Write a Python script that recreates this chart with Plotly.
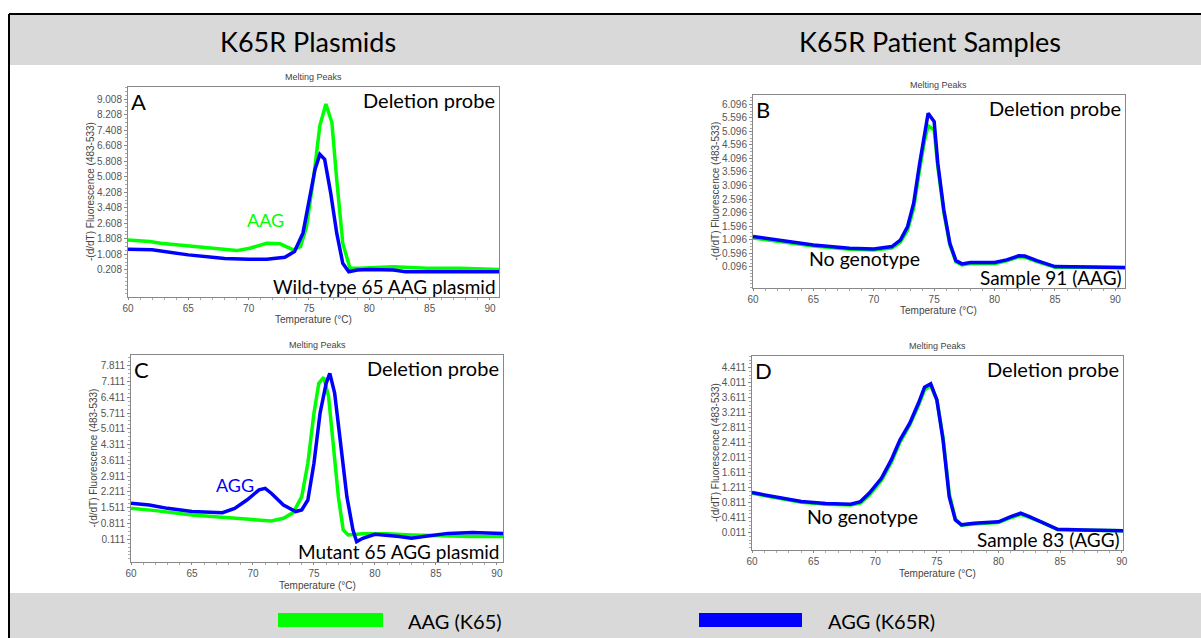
import plotly.graph_objects as go

W, H = 1201, 638

# ---------------- data ----------------
# Panel A: K65R wild-type plasmid
A_green_t = [60, 61.8, 62.7, 65.4, 68.2, 69.0, 70.1, 71.5, 72.6, 73.7, 74.3, 74.8, 75.4, 75.9, 76.4, 76.9, 77.3, 77.8, 78.4, 79.2, 82.0, 84.8, 87.5, 90.8]
A_green_v = [1.75, 1.67, 1.58, 1.41, 1.24, 1.20, 1.32, 1.58, 1.55, 1.24, 1.41, 2.44, 5.04, 7.63, 8.75, 7.80, 4.86, 1.58, 0.29, 0.29, 0.37, 0.29, 0.29, 0.23]
A_blue_t = [60, 62, 65, 68, 70, 71.5, 73, 73.8, 74.5, 75, 75.5, 75.9, 76.3, 76.8, 77.3, 77.8, 78.3, 79, 80, 82, 83, 85, 90.8]
A_blue_v = [1.27, 1.24, 0.98, 0.80, 0.75, 0.75, 0.86, 1.15, 2.10, 3.65, 5.38, 6.16, 5.90, 4.17, 2.10, 0.55, 0.11, 0.20, 0.23, 0.20, 0.11, 0.11, 0.11]

# Panel B: patient sample 91 (AAG)
B_t = [60, 62, 65, 68, 70, 71.5, 72.2, 72.8, 73.3, 73.8, 74.2, 74.5, 75, 75.3, 75.8, 76.3, 76.8, 77.3, 78, 80, 81, 82, 82.5, 83.5, 85, 87, 90.8]
B_green_v = [1.16, 1.03, 0.86, 0.74, 0.71, 0.79, 1.00, 1.45, 2.25, 3.70, 4.75, 5.30, 5.15, 3.80, 2.10, 0.90, 0.28, 0.16, 0.21, 0.21, 0.31, 0.46, 0.45, 0.29, 0.08, 0.08, 0.06]
B_blue_v = [1.21, 1.08, 0.90, 0.78, 0.75, 0.84, 1.08, 1.58, 2.44, 3.92, 5.02, 5.76, 5.46, 3.92, 2.19, 0.96, 0.32, 0.20, 0.25, 0.25, 0.35, 0.50, 0.49, 0.32, 0.10, 0.10, 0.07]

# Panel C: K65R mutant plasmid
C_green_t = [60, 62, 65, 68, 70, 71.5, 72.5, 73.3, 74, 74.5, 75, 75.4, 75.8, 76.2, 76.6, 77, 77.4, 77.8, 79, 81, 83, 85, 88, 90.5]
C_green_v = [1.48, 1.38, 1.19, 1.08, 0.97, 0.92, 1.04, 1.29, 2.00, 3.48, 5.70, 7.03, 7.29, 6.44, 4.22, 2.00, 0.52, 0.30, 0.35, 0.35, 0.30, 0.26, 0.23, 0.23]
C_blue_t = [60, 61.5, 63, 65, 67.5, 68.5, 69.5, 70.5, 71, 71.5, 72.5, 73.5, 74, 74.5, 75, 75.5, 76, 76.3, 76.7, 77.2, 77.7, 78.2, 78.5, 79, 80, 82, 83, 84, 86, 88, 90.5]
C_blue_v = [1.71, 1.63, 1.48, 1.34, 1.29, 1.48, 1.85, 2.30, 2.37, 2.15, 1.63, 1.34, 1.41, 1.85, 3.48, 5.70, 7.03, 7.47, 6.58, 4.22, 2.00, 0.52, 0.00, 0.15, 0.33, 0.23, 0.15, 0.23, 0.37, 0.41, 0.37]

# Panel D: patient sample 83 (AGG)
D_t = [60, 62, 64, 66, 68, 68.8, 69.5, 70.5, 71.3, 72, 72.8, 73.5, 74, 74.5, 75, 75.5, 76, 76.5, 77, 78, 80, 81, 81.8, 82.5, 83.5, 84.8, 87, 90.1]
D_green_v = [1.06, 0.95, 0.82, 0.77, 0.75, 0.80, 1.00, 1.40, 1.88, 2.42, 2.88, 3.40, 3.82, 3.93, 3.55, 2.55, 1.05, 0.38, 0.21, 0.24, 0.28, 0.41, 0.50, 0.42, 0.29, 0.09, 0.07, 0.06]
D_blue_v = [1.08, 0.97, 0.84, 0.79, 0.77, 0.84, 1.06, 1.46, 1.95, 2.48, 2.93, 3.46, 3.89, 3.98, 3.55, 2.48, 0.97, 0.35, 0.22, 0.26, 0.30, 0.44, 0.53, 0.44, 0.30, 0.10, 0.08, 0.06]

# tick labels
A_ticks = ["9.008", "8.208", "7.408", "6.608", "5.808", "5.008", "4.208", "3.408", "2.608", "1.808", "1.008", "0.208"]
B_ticks = ["6.096", "5.596", "5.096", "4.596", "4.096", "3.596", "3.096", "2.596", "2.096", "1.596", "1.096", "0.596", "0.096"]
C_ticks = ["7.811", "7.111", "6.411", "5.711", "5.011", "4.311", "3.611", "2.911", "2.211", "1.511", "0.811", "0.111"]
D_ticks = ["4.411", "4.011", "3.611", "3.211", "2.811", "2.411", "2.011", "1.611", "1.211", "0.811", "0.411", "0.011"]
x_ticks = [60, 65, 70, 75, 80, 85, 90]

headers = ["K65R Plasmids", "K65R Patient Samples"]
legend_labels = ["AAG (K65)", "AGG (K65R)"]
GREEN, BLUE = "#00ff00", "#0000ff"

# ---------------- layout helpers ----------------
def X(px):
    return px / W

def Y(py):
    return 1 - py / H

BIG = "Lato, 'Open Sans', sans-serif"
SMALL = "'Liberation Sans', Arial, sans-serif"

panels = [
    dict(key="", box=(128, 499, 87, 297), xr=[60, 90.75], yr=[-1.19, 9.63], ticks=A_ticks, step=0.8,
         series=[(A_green_t, A_green_v, GREEN), (A_blue_t, A_blue_v, BLUE)],
         letter="A", bottom_text="Wild-type 65 AAG plasmid", ytitle_x=90),
    dict(key="2", box=(753, 1125, 95, 288), xr=[60, 90.8], yr=[-0.69, 6.44], ticks=B_ticks, step=0.5,
         series=[(B_t, B_green_v, GREEN), (B_t, B_blue_v, BLUE)],
         letter="B", bottom_text="Sample 91 (AAG)", ytitle_x=715),
    dict(key="3", box=(131, 503, 355, 562), xr=[60, 90.5], yr=[-0.9, 8.285], ticks=C_ticks, step=0.7,
         series=[(C_green_t, C_green_v, GREEN), (C_blue_t, C_blue_v, BLUE)],
         letter="C", bottom_text="Mutant 65 AGG plasmid", ytitle_x=93),
    dict(key="4", box=(752, 1123, 356, 550), xr=[60, 90.1], yr=[-0.45, 4.72], ticks=D_ticks, step=0.4,
         series=[(D_t, D_green_v, GREEN), (D_t, D_blue_v, BLUE)],
         letter="D", bottom_text="Sample 83 (AGG)", ytitle_x=715),
]

fig = go.Figure()
annotations = []
shapes = []
layout = {}

# background bands and frame
shapes.append(dict(type="rect", xref="paper", yref="paper", x0=X(9), x1=1, y0=Y(65), y1=Y(14),
                   fillcolor="#d9d9d9", line=dict(width=0), layer="below"))
shapes.append(dict(type="rect", xref="paper", yref="paper", x0=X(9), x1=1, y0=0, y1=Y(593),
                   fillcolor="#d9d9d9", line=dict(width=0), layer="below"))
shapes.append(dict(type="line", xref="paper", yref="paper", x0=X(9), x1=1, y0=Y(14), y1=Y(14),
                   line=dict(color="black", width=2)))
shapes.append(dict(type="line", xref="paper", yref="paper", x0=X(9), x1=X(9), y0=0, y1=Y(14),
                   line=dict(color="black", width=2)))

for i, txt in enumerate(headers):
    cx = [308, 930][i]
    annotations.append(dict(text=txt, x=X(cx), y=Y(41), xref="paper", yref="paper", showarrow=False,
                            xanchor="center", yanchor="middle", font=dict(family=BIG, size=27, color="black")))

for p in panels:
    l, r, t, b = p["box"]
    k = p["key"]
    xa, ya = "xaxis" + k, "yaxis" + k
    xref, yref = "x" + k, "y" + k
    y0 = float(p["ticks"][-1])
    tickvals = [float(s) for s in p["ticks"]]
    layout[xa] = dict(domain=[X(l), X(r)], range=p["xr"], anchor=yref, tickmode="array", tickvals=x_ticks,
                      ticks="outside", ticklen=2, tickcolor="#888", showline=True, linecolor="#888",
                      linewidth=1, mirror=True, showgrid=False, zeroline=False, automargin=False,
                      tickfont=dict(family=SMALL, size=10, color="#555"),
                      minor=dict(tickmode="linear", tick0=60, dtick=1, ticks="outside", ticklen=2, tickcolor="#aaa"))
    layout[ya] = dict(domain=[Y(b), Y(t)], range=p["yr"], anchor=xref, tickmode="array", tickvals=tickvals,
                      ticktext=p["ticks"], ticks="outside", ticklen=3, tickcolor="#888", showline=True,
                      linecolor="#888", linewidth=1, mirror=True, showgrid=False, zeroline=False,
                      automargin=False, tickfont=dict(family=SMALL, size=10, color="#555"),
                      minor=dict(tickmode="linear", tick0=y0, dtick=p["step"] / 4, ticks="outside",
                                 ticklen=2, tickcolor="#aaa"))
    for tx, vy, col in p["series"]:
        fig.add_trace(go.Scatter(x=tx, y=vy, mode="lines", line=dict(color=col, width=3.5),
                                 xaxis=xref, yaxis=yref, showlegend=False, hoverinfo="skip"))
    cx = (l + r) / 2
    annotations.append(dict(text="Melting Peaks", x=X(cx), y=Y(t - 10), xref="paper", yref="paper",
                            showarrow=False, xanchor="center", yanchor="middle",
                            font=dict(family=SMALL, size=9, color="#444")))
    annotations.append(dict(text="Temperature (°C)", x=X(cx), y=Y(b + 23), xref="paper", yref="paper",
                            showarrow=False, xanchor="center", yanchor="middle",
                            font=dict(family=SMALL, size=10, color="#444")))
    annotations.append(dict(text="-(d/dT) Fluorescence (483-533)", x=X(p["ytitle_x"]), y=Y((t + b) / 2),
                            xref="paper", yref="paper", showarrow=False, textangle=-90,
                            xanchor="center", yanchor="middle",
                            font=dict(family=SMALL, size=10, color="#444")))
    annotations.append(dict(text=p["letter"], x=X(l + 1), y=Y(t - 1), xref="paper", yref="paper",
                            showarrow=False, xanchor="left", yanchor="top",
                            font=dict(family=BIG, size=22, color="black")))
    annotations.append(dict(text="Deletion probe", x=X(r - 2), y=Y(t - 1), xref="paper", yref="paper",
                            showarrow=False, xanchor="right", yanchor="top",
                            font=dict(family=BIG, size=20, color="black")))
    annotations.append(dict(text=p["bottom_text"], x=X(r - 1), y=Y(b + 3), xref="paper", yref="paper",
                            showarrow=False, xanchor="right", yanchor="bottom",
                            font=dict(family=BIG, size=19, color="black")))

# inner labels
annotations.append(dict(text="AAG", x=71.4, y=2.79, xref="x", yref="y", showarrow=False,
                        xanchor="center", yanchor="middle", font=dict(family=BIG, size=18, color=GREEN)))
annotations.append(dict(text="AGG", x=68.5, y=2.52, xref="x3", yref="y3", showarrow=False,
                        xanchor="center", yanchor="middle", font=dict(family=BIG, size=18, color=BLUE)))
annotations.append(dict(text="No genotype", x=X(864), y=Y(258), xref="paper", yref="paper", showarrow=False,
                        xanchor="center", yanchor="middle", font=dict(family=BIG, size=19.5, color="black")))
annotations.append(dict(text="No genotype", x=X(862), y=Y(516), xref="paper", yref="paper", showarrow=False,
                        xanchor="center", yanchor="middle", font=dict(family=BIG, size=19.5, color="black")))

# legend (bottom band)
for (x0, x1, tx), lab, col in zip([(278, 383, 406), (699, 802, 826)], legend_labels, [GREEN, BLUE]):
    shapes.append(dict(type="rect", xref="paper", yref="paper", x0=X(x0), x1=X(x1), y0=Y(627), y1=Y(613),
                       fillcolor=col, line=dict(width=0)))
    annotations.append(dict(text=lab, x=X(tx), y=Y(621), xref="paper", yref="paper", showarrow=False,
                            xanchor="left", yanchor="middle", font=dict(family=BIG, size=20, color="black")))

fig.update_layout(width=W, height=H, margin=dict(l=0, r=0, t=0, b=0, pad=0), paper_bgcolor="white",
                  plot_bgcolor="white", showlegend=False, annotations=annotations, shapes=shapes, **layout)

fig.write_html("out.html", config={"displayModeBar": False},
               post_script="document.body.style.margin='0';document.body.style.overflow='hidden';")
